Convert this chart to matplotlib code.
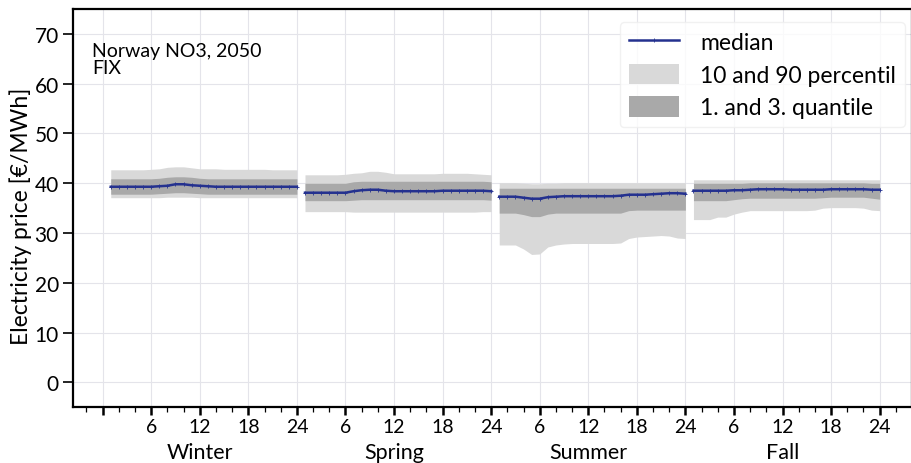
import matplotlib
matplotlib.use('Agg')
import matplotlib.pyplot as plt
import matplotlib.transforms as mtransforms
import numpy as np

plt.rcParams['font.family'] = ['Lato', 'DejaVu Sans']

seasons = ['Winter', 'Spring', 'Summer', 'Fall']
hours = list(range(1, 25))

# Winter
med_winter = [39.3, 39.3, 39.3, 39.3, 39.3, 39.3, 39.4, 39.5, 39.8, 39.8, 39.6, 39.5,
              39.4, 39.3, 39.3, 39.3, 39.3, 39.3, 39.3, 39.3, 39.3, 39.3, 39.3, 39.3]
q90_winter = [42.7, 42.7, 42.7, 42.7, 42.7, 42.8, 42.9, 43.2, 43.3, 43.3, 43.1, 42.9,
              42.9, 42.9, 42.8, 42.8, 42.8, 42.8, 42.8, 42.8, 42.7, 42.7, 42.7, 42.7]
q75_winter = [40.9, 40.9, 40.9, 40.9, 40.9, 40.9, 41.0, 41.2, 41.3, 41.3, 41.2, 41.0,
              40.9, 40.9, 40.9, 40.9, 40.9, 40.9, 40.9, 40.9, 40.9, 40.9, 40.9, 40.9]
q25_winter = [37.8, 37.8, 37.8, 37.8, 37.8, 37.8, 37.9, 38.0, 38.1, 38.1, 38.0, 37.9,
              37.8, 37.8, 37.8, 37.8, 37.8, 37.8, 37.8, 37.8, 37.8, 37.8, 37.8, 37.8]
q10_winter = [37.1, 37.1, 37.1, 37.1, 37.1, 37.1, 37.1, 37.2, 37.2, 37.2, 37.2, 37.1,
              37.1, 37.1, 37.1, 37.1, 37.1, 37.1, 37.1, 37.1, 37.1, 37.1, 37.1, 37.1]

# Spring
med_spring = [38.1, 38.1, 38.1, 38.1, 38.1, 38.1, 38.4, 38.6, 38.7, 38.7, 38.5, 38.4,
              38.4, 38.4, 38.4, 38.4, 38.4, 38.5, 38.5, 38.5, 38.5, 38.5, 38.5, 38.4]
q90_spring = [41.7, 41.7, 41.7, 41.7, 41.7, 41.8, 42.0, 42.1, 42.4, 42.4, 42.2, 41.9,
              41.9, 41.9, 41.9, 41.9, 41.9, 42.0, 42.0, 42.0, 42.0, 41.9, 41.8, 41.7]
q75_spring = [40.0, 40.0, 40.0, 40.0, 40.0, 40.0, 40.3, 40.4, 40.4, 40.4, 40.4, 40.4,
              40.4, 40.4, 40.4, 40.4, 40.4, 40.4, 40.4, 40.4, 40.4, 40.4, 40.4, 40.3]
q25_spring = [36.5, 36.5, 36.5, 36.5, 36.5, 36.5, 36.6, 36.7, 36.7, 36.7, 36.7, 36.7,
              36.7, 36.7, 36.7, 36.7, 36.7, 36.7, 36.7, 36.7, 36.7, 36.7, 36.7, 36.6]
q10_spring = [34.3, 34.3, 34.3, 34.3, 34.3, 34.3, 34.2, 34.2, 34.2, 34.2, 34.2, 34.2,
              34.2, 34.2, 34.2, 34.2, 34.2, 34.2, 34.2, 34.2, 34.2, 34.2, 34.3, 34.3]

# Summer
med_summer = [37.3, 37.3, 37.3, 37.1, 36.9, 36.9, 37.2, 37.3, 37.4, 37.4, 37.4, 37.4,
              37.4, 37.4, 37.4, 37.5, 37.7, 37.7, 37.7, 37.8, 37.9, 38.0, 38.0, 37.9]
q90_summer = [40.1, 40.1, 40.1, 40.0, 39.9, 39.9, 40.0, 40.0, 40.1, 40.1, 40.1, 40.1,
              40.1, 40.1, 40.1, 40.1, 40.1, 40.1, 40.1, 40.1, 40.1, 40.1, 40.1, 40.1]
q75_summer = [39.0, 39.0, 39.0, 39.0, 39.0, 39.0, 39.0, 39.0, 39.0, 39.0, 39.0, 39.0,
              39.0, 39.0, 39.0, 39.0, 39.0, 39.0, 39.0, 39.0, 39.0, 39.0, 39.0, 39.0]
q25_summer = [34.0, 34.0, 34.0, 33.7, 33.3, 33.3, 33.8, 34.0, 34.0, 34.0, 34.0, 34.0,
              34.0, 34.0, 34.0, 34.0, 34.5, 34.6, 34.6, 34.6, 34.6, 34.6, 34.6, 34.6]
q10_summer = [27.6, 27.6, 27.6, 26.8, 25.7, 25.8, 27.2, 27.6, 27.8, 27.9, 27.9, 27.9,
              27.9, 27.9, 27.9, 28.0, 28.9, 29.2, 29.3, 29.4, 29.5, 29.4, 29.0, 28.9]

# Fall
med_fall = [38.5, 38.5, 38.5, 38.5, 38.5, 38.6, 38.6, 38.7, 38.8, 38.8, 38.8, 38.8,
            38.7, 38.7, 38.7, 38.7, 38.7, 38.8, 38.8, 38.8, 38.8, 38.8, 38.7, 38.7]
q90_fall = [40.7, 40.7, 40.7, 40.7, 40.7, 40.7, 40.7, 40.7, 40.7, 40.7, 40.7, 40.7,
            40.7, 40.7, 40.7, 40.7, 40.7, 40.7, 40.7, 40.7, 40.7, 40.7, 40.7, 40.7]
q75_fall = [40.0, 40.0, 40.0, 40.0, 40.0, 40.0, 40.0, 40.1, 40.1, 40.1, 40.1, 40.1,
            40.1, 40.1, 40.1, 40.1, 40.1, 40.1, 40.1, 40.1, 40.1, 40.1, 40.0, 40.0]
q25_fall = [36.5, 36.5, 36.5, 36.5, 36.5, 36.7, 36.9, 37.0, 37.0, 37.0, 37.0, 37.0,
            37.0, 37.0, 37.0, 37.0, 37.1, 37.2, 37.2, 37.2, 37.2, 37.2, 37.0, 36.8]
q10_fall = [32.7, 32.7, 32.7, 33.2, 33.2, 33.8, 34.2, 34.5, 34.5, 34.5, 34.5, 34.5,
            34.5, 34.5, 34.5, 34.6, 35.0, 35.1, 35.1, 35.1, 35.1, 35.0, 34.6, 34.5]

data = [
    (med_winter, q10_winter, q90_winter, q25_winter, q75_winter),
    (med_spring, q10_spring, q90_spring, q25_spring, q75_spring),
    (med_summer, q10_summer, q90_summer, q25_summer, q75_summer),
    (med_fall, q10_fall, q90_fall, q25_fall, q75_fall),
]

LIGHT = '#d9d9d9'
DARK = '#a9a9a9'
NAVY = '#24318f'

fig = plt.figure(figsize=(9.12, 4.64), dpi=100)
ax = fig.add_axes([72.7 / 912, 1 - 408.3 / 464, 1 - 72.7 / 912, (408.3 - 10) / 464])

for s, (med, q10, q90, q25, q75) in enumerate(data):
    x = np.array(hours) + 24 * s
    ax.fill_between(x, q10, q90, color=LIGHT, lw=0, zorder=2,
                    label='10 and 90 percentil' if s == 0 else None)
    ax.fill_between(x, q25, q75, color=DARK, lw=0, zorder=3,
                    label='1. and 3. quantile' if s == 0 else None)
    ax.plot(x, med, color=NAVY, lw=1.8, marker='+', ms=3, mew=0.6, zorder=4,
            label='median' if s == 0 else None)

ax.set_xlim(-3.7, 100)
ax.set_ylim(-5, 75)

major = np.arange(0, 97, 6)
labels = []
for t in major:
    if t == 0:
        labels.append('')
        continue
    h = t % 24 if t % 24 != 0 else 24
    labels.append(str(h))
ax.set_xticks(major)
ax.set_xticklabels(labels, fontsize=14)
ax.set_xticks(np.arange(-2, 100, 2), minor=True)
ax.set_yticks(np.arange(0, 71, 10))
ax.tick_params(axis='y', labelsize=15, length=7, width=1.2, direction='out', pad=3)
ax.tick_params(axis='x', which='major', length=6, width=1.8, pad=2)
ax.tick_params(axis='x', which='minor', length=3.5, width=0.9)

# season names under the hour labels
trans = mtransforms.blended_transform_factory(ax.transData, ax.transAxes)
for s, name in enumerate(seasons):
    ax.text(12 + 24 * s, (408.3 - 459) / 398.3, name, transform=trans,
            ha='center', va='baseline', fontsize=15.5, clip_on=False)

ax.grid(True, which='major', color='#e4e4ea', lw=0.8, zorder=0)
ax.set_axisbelow(True)
for sp in ax.spines.values():
    sp.set_linewidth(1.6)
    sp.set_color('black')

ax.set_ylabel('Electricity price [€/MWh]', fontsize=16.5)
ax.yaxis.set_label_coords((32 - 72.7) / 839.3, (408.3 - 216) / 398.3)

ax.text(0.023, 0.918, 'Norway NO3, 2050\nFIX', transform=ax.transAxes,
        fontsize=14, va='top', ha='left', linespacing=1.05)

handles, labs = ax.get_legend_handles_labels()
order = [labs.index('median'), labs.index('10 and 90 percentil'), labs.index('1. and 3. quantile')]
leg = ax.legend([handles[i] for i in order], [labs[i] for i in order],
                loc='upper right', bbox_to_anchor=(905 / 912, 1 - 23 / 464),
                bbox_transform=fig.transFigure, borderaxespad=0, fontsize=16.5,
                handlelength=2.2, handleheight=1.0, labelspacing=0.45, handletextpad=0.9,
                borderpad=0.4, framealpha=0.8, edgecolor='#eeeeee')

fig.savefig('out.png', dpi=100)
